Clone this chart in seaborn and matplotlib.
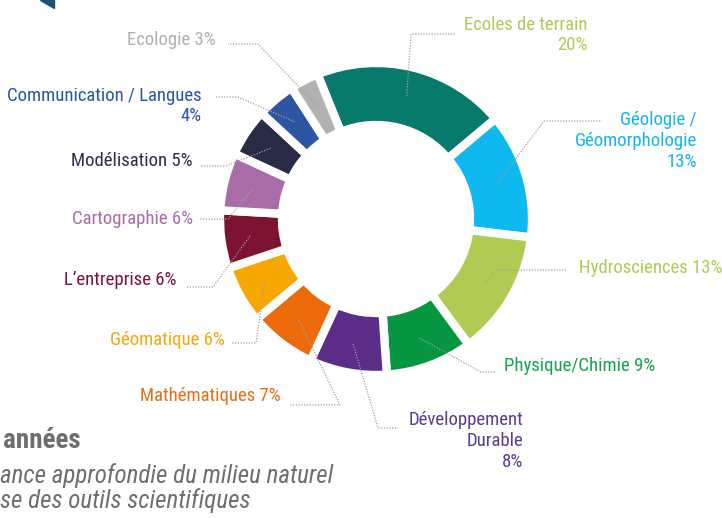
import os
import numpy as np
import matplotlib
matplotlib.use("Agg")
import matplotlib.pyplot as plt
import seaborn as sns
from matplotlib.patches import Polygon
from matplotlib import font_manager as fm

sns.set_theme(style="white")

# ---- data ----
categories = ["Ecoles de terrain", "Géologie / Géomorphologie", "Hydrosciences",
              "Physique/Chimie", "Développement Durable", "Mathématiques",
              "Géomatique", "L'entreprise", "Cartographie", "Modélisation",
              "Communication / Langues", "Ecologie"]
values = [20, 13, 13, 9, 8, 7, 6, 6, 6, 5, 4, 3]
label_texts = ["Ecoles de terrain\n20%", "Géologie /\nGéomorphologie\n13%",
               "Hydrosciences 13%", "Physique/Chimie 9%",
               "Développement\nDurable\n8%", "Mathématiques 7%",
               "Géomatique 6%", "L\u2019entreprise 6%", "Cartographie 6%",
               "Modélisation 5%", "Communication / Langues\n4%", "Ecologie 3%"]
wedge_colors = ["#077A6C", "#0DB9EE", "#B0CB54", "#05963F", "#5B2D87", "#ED6A0B",
                "#F7A800", "#7C1331", "#A96CA8", "#272B45", "#2D55A2", "#B2B2B2"]
text_colors = ["#B2C95A", "#13B5EA", "#AFCA55", "#17A24F", "#5E3B8E", "#EC6B13",
               "#F4A70C", "#7C1331", "#A96CA8", "#2A2E48", "#2D55A2", "#B0B0B0"]

# ---- pick a condensed font if one is installed ----
def find_font(prefs):
    files = [f.fname for f in fm.fontManager.ttflist]
    for p in prefs:
        for f in files:
            if os.path.basename(f).lower() == p.lower():
                return f
    for key in ["condensed", "narrow"]:
        for f in files:
            b = os.path.basename(f).lower()
            if key in b and "bold" not in b and "italic" not in b and "light" not in b:
                return f
    return None

cond_file = find_font(["RobotoCondensed-Regular.ttf", "Roboto_Condensed-Regular.ttf",
                       "OpenSans_Condensed-Regular.ttf", "OpenSans-CondensedRegular.ttf",
                       "LiberationSansNarrow-Regular.ttf", "DejaVuSansCondensed.ttf"])
if cond_file:
    FP = fm.FontProperties(fname=cond_file)
    fam = FP.get_name()
    name = os.path.basename(cond_file).lower()
    FS = 13.5 if "dejavu" not in name else 11.5
else:
    FP = fm.FontProperties(family="DejaVu Sans")
    fam = "DejaVu Sans"
    FS = 11

def styled(weight="normal", style="normal"):
    fp = fm.FontProperties(family=[fam, "DejaVu Sans"], weight=weight, style=style)
    return fp

W, H = 722, 518
fig = plt.figure(figsize=(W / 100, H / 100), dpi=100)
ax = fig.add_axes([0, 0, 1, 1])

def Y(y):
    return H - y

cx, cy = 376, 219
R_out, R_in = 156, 94

wedges, _ = ax.pie(values, colors=wedge_colors, radius=R_out, center=(cx, Y(cy)),
                   startangle=112, counterclock=False, frame=True,
                   wedgeprops=dict(width=R_out - R_in, edgecolor="white", linewidth=6))
ax.set_xlim(0, W)
ax.set_ylim(0, H)
ax.set_aspect("equal")
ax.axis("off")

# label layout: (text x, text y, ha, elbow, end) in image pixels
layout = [
    (588, 35, "right", (411, 34), (455, 34)),
    (697, 141, "right", (544, 121), (602, 121)),
    (579, 268, "left", (496, 270), (567, 270)),
    (504, 366, "left", (481, 372), (496, 372)),
    (523, 441, "right", (378, 428), (398, 428)),
    (281, 396, "right", (340, 405), (290, 405)),
    (225, 340, "right", (256, 343), (232, 343)),
    (177, 280, "right", (213, 287), (186, 287)),
    (193, 219, "right", (228, 219), (200, 219)),
    (193, 161, "right", (226, 166), (200, 166)),
    (202, 106, "right", (238, 97), (215, 97)),
    (216, 40, "right", (258, 44), (228, 44)),
]

r_mid = (R_out + R_in) / 2 + 2
for w, txt, col, (tx, ty, ha, elb, end) in zip(wedges, label_texts, text_colors, layout):
    ang = np.deg2rad((w.theta1 + w.theta2) / 2)
    sx = cx + r_mid * np.cos(ang)
    sy = Y(cy) + r_mid * np.sin(ang)
    ax.plot([sx, elb[0], end[0]], [sy, Y(elb[1]), Y(end[1])], color="#A0A0A0",
            lw=0.9, ls=(0, (1, 1.2)), zorder=5, solid_capstyle="butt")
    ax.text(tx, Y(ty), txt, ha=ha, va="center", color=col, fontproperties=FP,
            fontsize=FS, linespacing=1.2, multialignment=ha, zorder=6)

# decoration and partial text at the edges
ax.add_patch(Polygon([[40, Y(0)], [54, Y(0)], [54, Y(8)]], closed=True,
                     color="#1D4F7C", zorder=1))
ax.text(3, Y(440), "années", ha="left", va="center", color="#6E6E6E",
        fontproperties=styled(weight="bold"), fontsize=FS + 6)
ax.text(0, Y(476), "ance approfondie du milieu naturel", ha="left", va="center",
        color="#6E6E6E", fontproperties=styled(style="italic"), fontsize=FS + 4.5)
ax.text(0, Y(501), "se des outils scientifiques", ha="left", va="center",
        color="#6E6E6E", fontproperties=styled(style="italic"), fontsize=FS + 4.5)

fig.savefig("out.png", dpi=100)
